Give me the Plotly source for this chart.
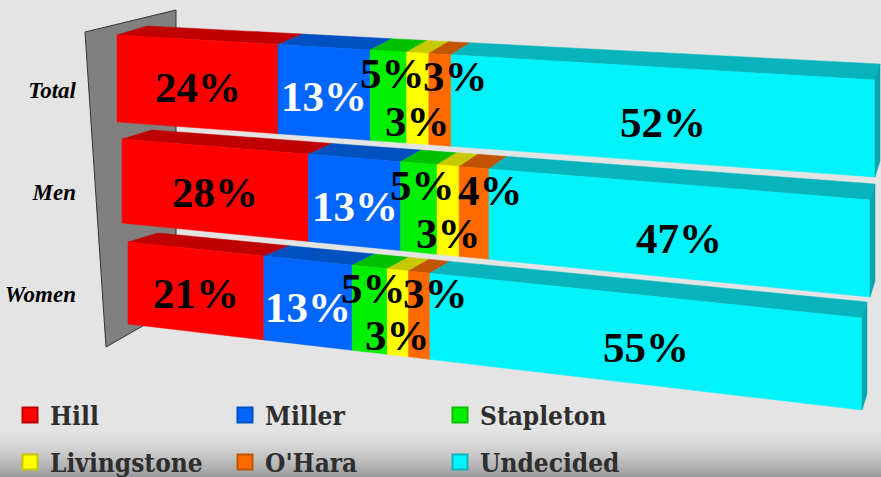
import plotly.graph_objects as go

# ---------------- data ----------------
categories = ["Total", "Men", "Women"]
candidates = ["Hill", "Miller", "Stapleton", "Livingstone", "O'Hara", "Undecided"]
hill = [24, 28, 21]
miller = [13, 13, 13]
stapleton = [5, 5, 5]
livingstone = [3, 3, 3]
ohara = [3, 4, 3]
undecided = [52, 47, 55]
series = [hill, miller, stapleton, livingstone, ohara, undecided]

# ---------------- style ----------------
front_colors = ["#ff0000", "#0066ff", "#00f000", "#ffff00", "#ff6a00", "#00f2fa"]
top_colors = ["#c00000", "#0050c0", "#00c000", "#c8c800", "#c05400", "#08b4bc"]
side_color = "#06a4ac"
label_colors = ["black", "white", "black", "black", "black", "black"]
label_level = [0.54, 0.55, 0.25, 0.76, 0.25, 0.58]
label_xshift = [0, 0, 4, 0, 16, 0]
legend_rows = ["legend", "legend", "legend", "legend2", "legend2", "legend2"]

W, H = 881, 477
# 3-D perspective layout of each bar row (pixels): left x, right x,
# top-left y, bottom-left y, top-right y, bottom-right y
row_geom = [
    (117, 875, 35, 122, 80, 177),
    (122, 870, 139, 223, 200, 297),
    (128, 862, 242, 324, 318, 410),
]
persp = 0.00146
depth_dx = (30, 5)
depth_dy = (-9, -16)


def gfrac(p):
    return p * (1 - 100 * persp) / (1 - persp * p) / 100.0


def proj(p, i, v):
    L, R, tl, bl, tr, br = row_geom[i]
    g = gfrac(p)
    x = L + (R - L) * g
    top = tl + (tr - tl) * g
    bot = bl + (br - bl) * g
    return x, top + v * (bot - top)


def proj_x(x, i, v):
    L, R, tl, bl, tr, br = row_geom[i]
    g = (x - L) / (R - L)
    top = tl + (tr - tl) * g
    bot = bl + (br - bl) * g
    return top + v * (bot - top)


def depth(p):
    g = gfrac(p)
    return (depth_dx[0] + (depth_dx[1] - depth_dx[0]) * g,
            depth_dy[0] + (depth_dy[1] - depth_dy[0]) * g)


fig = go.Figure()

# background gradient at the bottom
n_bands = 26
for b in range(n_bands):
    t = (b + 1) / n_bands
    c = int(round(0xe4 - (0xe4 - 0x9c) * t ** 1.8))
    y0 = 425 + (H - 425) * b / n_bands
    y1 = 425 + (H - 425) * (b + 1) / n_bands + 0.5
    fig.add_shape(type="rect", xref="paper", x0=0, x1=1, yref="y", y0=y0, y1=y1,
                  fillcolor=f"rgb({c},{c},{c})", line_width=0, layer="below")

# gray back wall
fig.add_shape(type="path", xref="x", yref="y",
              path="M85,32 L176,10 L176,307 L106,347 Z",
              fillcolor="#808080", line=dict(color="#333333", width=1), layer="below")

# bars as projected polygons
for k, name in enumerate(candidates):
    fx, fy, tx, ty = [], [], [], []
    sx, sy = [], []
    for i in range(len(categories)):
        p0 = sum(s[i] for s in series[:k])
        p1 = p0 + series[k][i]
        a = proj(p0, i, 0)
        b = proj(p1, i, 0)
        c = proj(p1, i, 1)
        d = proj(p0, i, 1)
        fx += [a[0], b[0], c[0], d[0], a[0], None]
        fy += [a[1], b[1], c[1], d[1], a[1], None]
        d0 = depth(p0)
        d1 = depth(p1)
        tx += [a[0], b[0], b[0] + d1[0], a[0] + d0[0], a[0], None]
        ty += [a[1], b[1], b[1] + d1[1], a[1] + d0[1], a[1], None]
        if k == len(candidates) - 1:
            sx += [b[0], b[0] + d1[0], c[0] + d1[0], c[0], b[0], None]
            sy += [b[1], b[1] + d1[1], c[1] + d1[1], c[1], b[1], None]
    fig.add_trace(go.Scatter(x=tx, y=ty, mode="lines", fill="toself", fillcolor=top_colors[k],
                             line=dict(color=top_colors[k], width=0.5), showlegend=False,
                             hoverinfo="skip"))
    fig.add_trace(go.Scatter(x=fx, y=fy, mode="lines", fill="toself", fillcolor=front_colors[k],
                             line=dict(color=front_colors[k], width=0.5), showlegend=False,
                             name=name, hoverinfo="skip"))
    if sx:
        fig.add_trace(go.Scatter(x=sx, y=sy, mode="lines", fill="toself", fillcolor=side_color,
                                 line=dict(color=side_color, width=0.5), showlegend=False,
                                 hoverinfo="skip"))

# legend entries
for k, name in enumerate(candidates):
    fig.add_trace(go.Scatter(x=[None], y=[None], mode="markers", name=name,
                             marker=dict(symbol="square", size=15, color=front_colors[k],
                                         line=dict(color=top_colors[k], width=2)),
                             legend=legend_rows[k]))

# data labels (centred on the projected segment)
for k in range(len(candidates)):
    for i in range(len(categories)):
        p0 = sum(s[i] for s in series[:k])
        p1 = p0 + series[k][i]
        x = (proj(p0, i, 0)[0] + proj(p1, i, 0)[0]) / 2.0
        y = proj_x(x, i, label_level[k])
        fig.add_annotation(x=x, y=y, xref="x", yref="y", text=f"{series[k][i]}%", showarrow=False,
                           xshift=label_xshift[k],
                           font=dict(family="Liberation Serif", size=43, weight="bold",
                                     color=label_colors[k]))

tick_pos = [proj(0, i, 0.5)[1] + 11 for i in range(len(categories))]

legend_font = dict(family="DejaVu Serif Condensed, DejaVu Serif", size=26, weight="bold",
                   color="#2e2e2e")
fig.update_layout(
    width=W, height=H,
    margin=dict(l=0, r=0, t=0, b=0, autoexpand=False),
    paper_bgcolor="#e4e4e4", plot_bgcolor="#e4e4e4",
    xaxis=dict(range=[0, W], domain=[0, 1], visible=False),
    yaxis=dict(range=[H, 0], domain=[0, 1], anchor="free", position=88 / W,
               showgrid=False, zeroline=False, showline=False, ticks="",
               tickvals=tick_pos, ticktext=categories, ticklabelstandoff=12,
               tickfont=dict(family="Liberation Serif", size=23, weight="bold",
                             style="italic", color="black")),
    legend=dict(orientation="h", x=10 / W, xanchor="left", y=1 - 415 / H, yanchor="middle",
                entrywidth=170, entrywidthmode="pixels", font=legend_font,
                bgcolor="rgba(0,0,0,0)"),
    legend2=dict(orientation="h", x=10 / W, xanchor="left", y=1 - 462 / H, yanchor="middle",
                 entrywidth=170, entrywidthmode="pixels", font=legend_font,
                 bgcolor="rgba(0,0,0,0)"),
    showlegend=True,
)

fig.write_html("out.html", config={"displayModeBar": False},
               post_script="document.body.style.margin='0';document.body.style.overflow='hidden';")
